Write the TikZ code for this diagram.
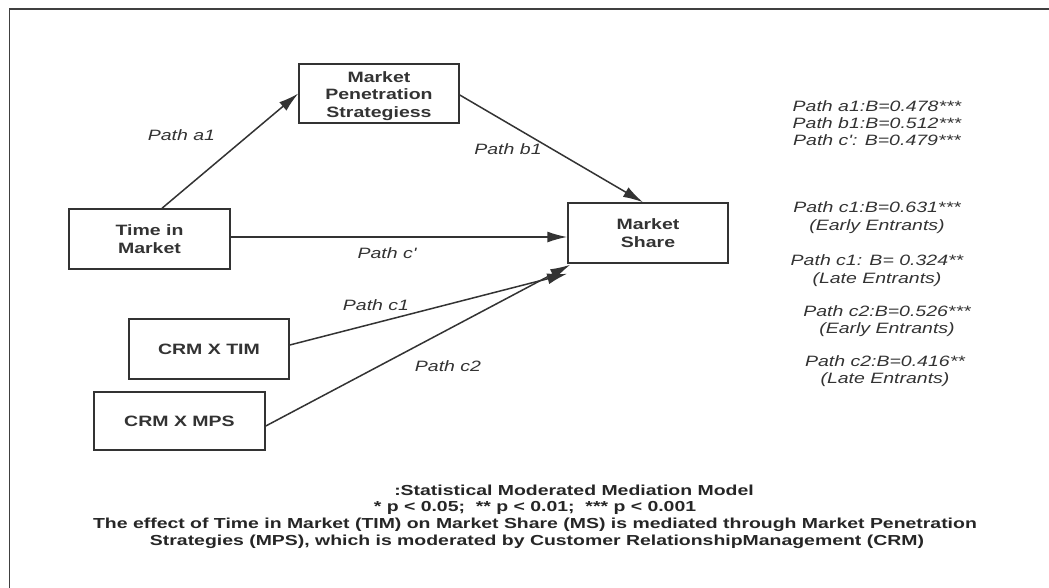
\documentclass[tikz,border=0pt]{standalone}
\usepackage{fontspec}
\setmainfont{Liberation Sans}
\newfontfamily\diagfont[FakeStretch=1.3]{Liberation Sans}
\newfontfamily\capfont[FakeStretch=1.34]{Liberation Sans}
\usetikzlibrary{arrows.meta}
\definecolor{ink}{HTML}{333333}
\definecolor{edge}{HTML}{333333}
\tikzset{
  box/.style={draw=edge, line width=1.5pt, fill=white, align=center, text=ink,
    font=\diagfont\fontsize{15}{17.5}\selectfont\bfseries, inner sep=0pt},
  boxtext/.style={align=center, text=ink, font=\diagfont\fontsize{15}{17.5}\selectfont\bfseries, inner sep=0pt},
  conn/.style={draw=edge, line width=1.5pt, -{Latex[length=20pt,width=11pt]}},
  plabel/.style={text=ink, font=\diagfont\fontsize{15}{17.5}\selectfont\itshape, inner sep=0pt},
  stat/.style={text=ink, font=\diagfont\fontsize{15}{17.5}\selectfont\itshape, inner sep=0pt, align=center},
  captext/.style={text=black!85, font=\capfont\fontsize{14.5}{14}\selectfont\bfseries, inner sep=0pt, anchor=base},
  frameline/.style={draw=black!75, line width=1.8pt}
}
\begin{document}
\begin{tikzpicture}[x=1pt,y=-1pt]
\useasboundingbox (0,0) rectangle (1049,587);
\fill[white] (0,0) rectangle (1049,587);
\draw[frameline] (9.5,600) -- (9.5,9) -- (1060,9);

\node[box, minimum width=160pt, minimum height=59pt] (mps) at (379,93.5) {};
\node[boxtext] (mpst) at (379,96) {Market\\Penetration\\Strategiess};
\node[box, minimum width=161pt, minimum height=60pt] (tim) at (149.5,239) {Time in\\Market};
\node[box, minimum width=160pt, minimum height=60pt] (ms) at (648,233) {Market\\Share};
\node[box, minimum width=160pt, minimum height=60pt] (crmtim) at (209,349) {CRM X TIM};
\node[box, minimum width=171pt, minimum height=58pt] (crmmps) at (179.5,421) {CRM X MPS};

\draw[conn] ([xshift=12.5pt]tim.north) -- (mps.west);
\draw[conn] ([yshift=-1.5pt]mps.east) -- ([xshift=-5pt]ms.north);
\coordinate (cpend) at (ms.west |- 0,237);
\draw[conn] (tim.east |- cpend) -- (cpend);
\draw[conn] ([yshift=4pt]crmtim.east) -- ([yshift=-10pt]ms.south west);
\draw[conn] ([yshift=-5pt]crmmps.east) -- ([xshift=3pt,yshift=-1pt]ms.south west);

\node[plabel] (la1) at (181.5,135) {Path a1};
\node[plabel] (lb1) at (508,149) {Path b1};
\node[plabel] (lcp) at (387,253) {Path c'};
\node[plabel] (lc1) at (376,305) {Path c1};
\node[plabel] (lc2) at (448,366) {Path c2};

\node[stat] (s1) at (877,106) {Path a1:B=0.478***};
\node[stat] (s2) at (877,123) {Path b1:B=0.512***};
\node[stat] (s3) at (877,140) {Path c': B=0.479***};
\node[stat] (s4) at (877,217.5) {Path c1:B=0.631***\\(Early Entrants)};
\node[stat] (s5) at (877,270.5) {Path c1: B= 0.324**\\(Late Entrants)};
\node[stat] (s6) at (887,321) {Path c2:B=0.526***\\(Early Entrants)};
\node[stat] (s7) at (885,371) {Path c2:B=0.416**\\(Late Entrants)};

\node[captext] (c1) at (574,495) {:Statistical Moderated Mediation Model};
\node[captext] (c2) at (535,511) {* p < 0.05;\ \ ** p < 0.01;\ \ *** p < 0.001};
\node[captext] (c3) at (535,528) {The effect of Time in Market (TIM) on Market Share (MS) is mediated through Market Penetration};
\node[captext] (c4) at (537,545) {Strategies (MPS), which is moderated by Customer RelationshipManagement (CRM)};
\end{tikzpicture}
\end{document}
